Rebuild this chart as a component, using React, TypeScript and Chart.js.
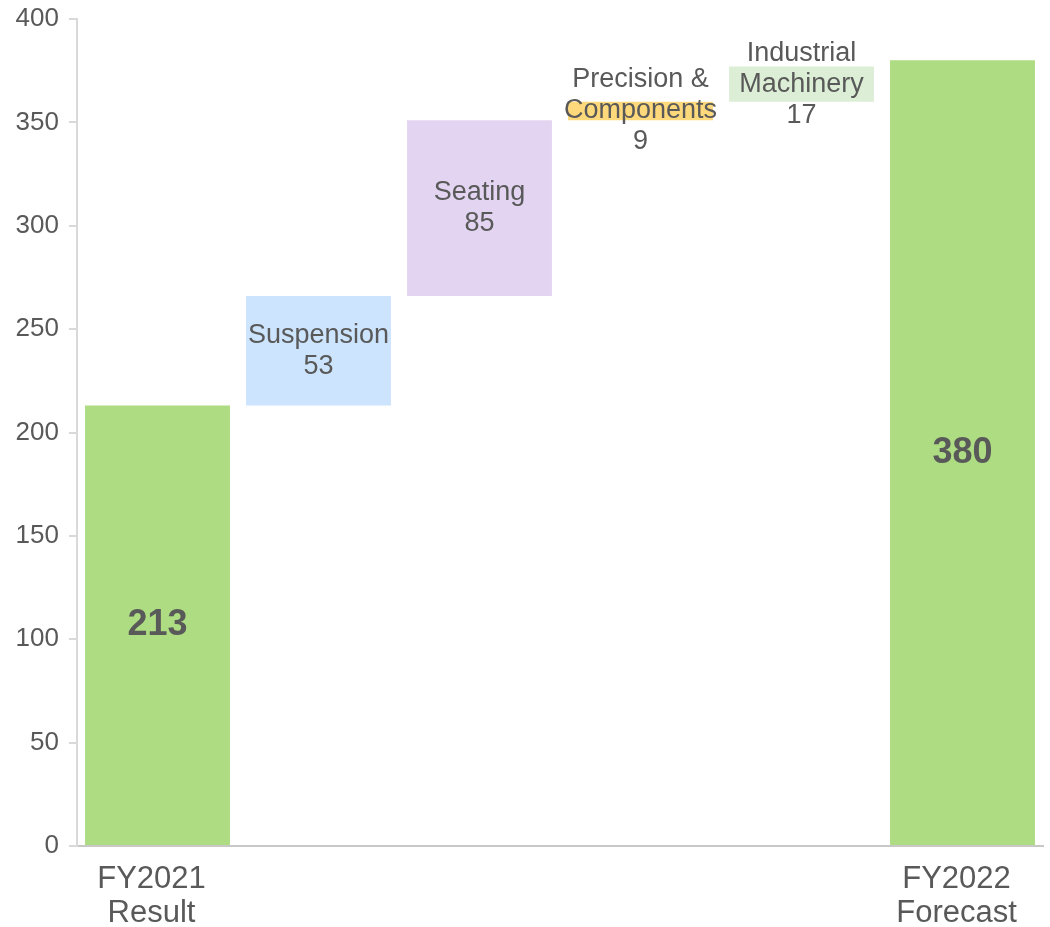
import React, { useEffect, useRef } from "react";
import { Chart, registerables } from "chart.js";

Chart.register(...registerables);

const categories = ["FY2021 Result", "Suspension", "Seating", "Precision & Components", "Industrial Machinery", "FY2022 Forecast"];
const axisLabels: (string | string[])[] = [["FY2021", "Result"], "", "", "", "", ["FY2022", "Forecast"]];
const barStarts = [0, 213, 266, 351, 360, 0];
const barEnds = [213, 266, 351, 360, 377, 380];
const barValues = [213, 53, 85, 9, 17, 380];
const barLabelLines: string[][] = [[], ["Suspension"], ["Seating"], ["Precision &", "Components"], ["Industrial", "Machinery"], []];
const isTotal = [true, false, false, false, false, true];
const barColors = ["#addc82", "#cce4fd", "#e3d5f2", "#fed97c", "#ddeed6", "#addc82"];
const yTicks = [0, 50, 100, 150, 200, 250, 300, 350, 400];

const FONT = "'Liberation Sans', Arial, Helvetica, sans-serif";
const TEXT = "#595959";

const labelPlugin = {
  id: "barLabels",
  afterDatasetsDraw(chart: any) {
    const ctx = chart.ctx;
    const meta = chart.getDatasetMeta(0);
    meta.data.forEach((bar: any, i: number) => {
      const cx = bar.x;
      const cy = (bar.y + bar.base) / 2;
      ctx.save();
      ctx.textAlign = "center";
      ctx.textBaseline = "middle";
      ctx.fillStyle = TEXT;
      if (isTotal[i]) {
        ctx.font = `bold 36px ${FONT}`;
        ctx.fillText(String(barValues[i]), cx, cy);
      } else {
        const lines = [...barLabelLines[i], String(barValues[i])];
        const lh = 31;
        ctx.font = `27px ${FONT}`;
        const start = cy - ((lines.length - 1) * lh) / 2;
        lines.forEach((l, k) => ctx.fillText(l, cx, start + k * lh));
      }
      ctx.restore();
    });
  },
};

export default function App() {
  const ref = useRef<HTMLCanvasElement>(null);
  useEffect(() => {
    document.body.style.margin = "0";
    const data = barStarts.map((s, i) => [s, barEnds[i]]);
    const chart = new Chart(ref.current!, {
      type: "bar",
      data: {
        labels: axisLabels as any,
        datasets: [
          {
            label: "Waterfall",
            data: data as any,
            backgroundColor: barColors,
            borderWidth: 0,
            barPercentage: 0.9,
            categoryPercentage: 1,
          },
        ],
      },
      options: {
        animation: false,
        responsive: true,
        maintainAspectRatio: false,
        layout: { padding: { top: 19, right: 7, left: 0, bottom: 0 } },
        plugins: { legend: { display: false }, tooltip: { enabled: false } },
        scales: {
          x: {
            grid: { display: false },
            border: { display: true, color: "#c8c8c8", width: 2 },
            ticks: {
              color: TEXT,
              font: { family: FONT, size: 31, lineHeight: 1.1 },
              padding: 8,
              labelOffset: -6,
              maxRotation: 0,
              autoSkip: false,
            },
            afterFit: (s: any) => {
              s.height = 81;
            },
          },
          y: {
            min: 0,
            max: 400,
            afterBuildTicks: (s: any) => {
              s.ticks = yTicks.map((v) => ({ value: v }));
            },
            grid: { drawOnChartArea: false, drawTicks: true, tickLength: 8, color: "#d9d9d9", lineWidth: 2 },
            border: { display: true, color: "#d9d9d9", width: 2 },
            ticks: {
              color: TEXT,
              font: { family: FONT, size: 26, lineHeight: 1 },
              padding: 10,
            },
            afterFit: (s: any) => {
              s.width = 77;
              s.paddingTop = 0;
              s.paddingBottom = 0;
            },
          },
        },
      },
      plugins: [labelPlugin],
    });
    return () => chart.destroy();
  }, []);
  return (
    <div style={{ width: 1050, height: 927, position: "relative" }}>
      <canvas ref={ref} />
    </div>
  );
}
